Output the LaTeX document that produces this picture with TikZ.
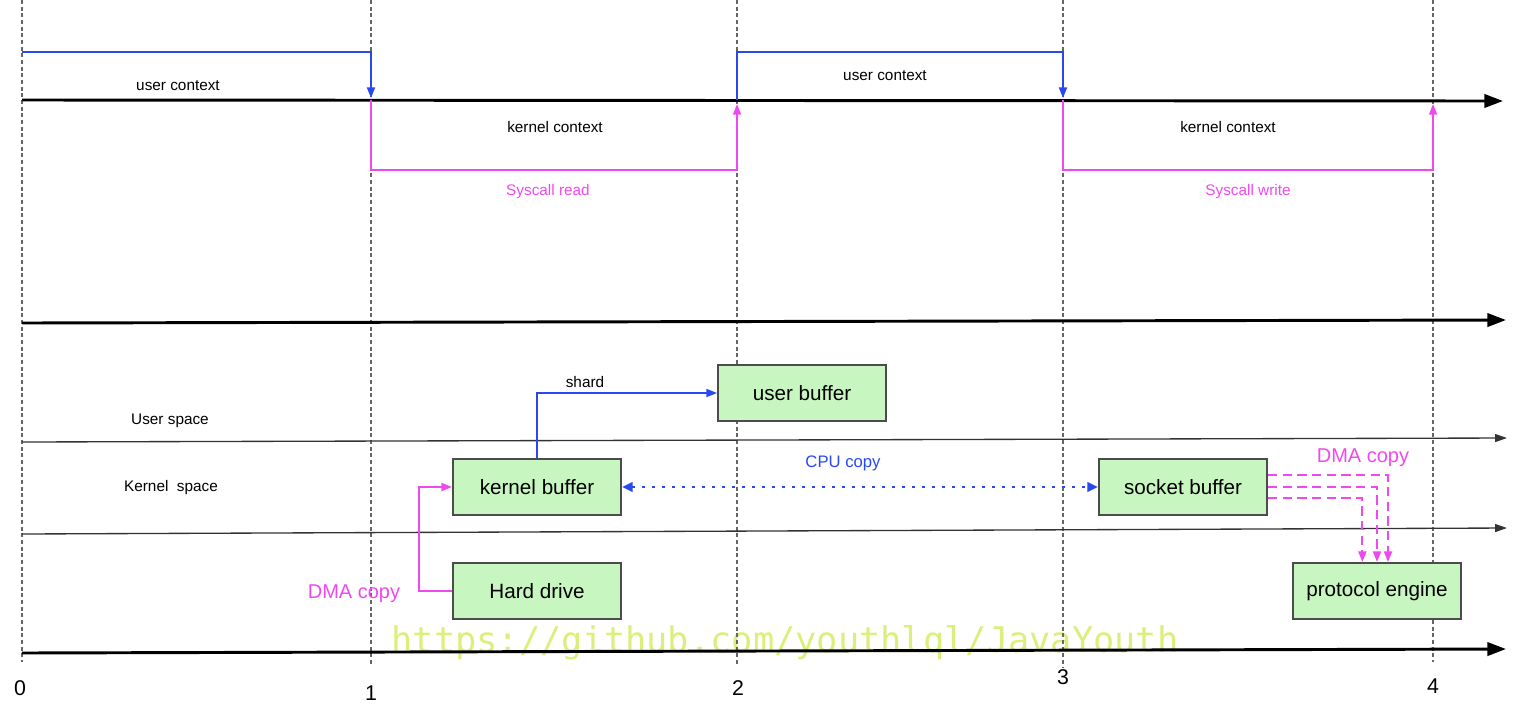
\documentclass[tikz,border=0pt]{standalone}
\usepackage{fontspec}
\setmainfont{Liberation Sans}
\newfontfamily\wmfont{DejaVu Sans Mono}
\usepackage{tikz}
\usetikzlibrary{arrows.meta}

\definecolor{ctxblue}{RGB}{40,72,240}
\definecolor{ctxmag}{RGB}{240,72,240}
\definecolor{bufgreen}{RGB}{200,246,192}
\definecolor{wmgreen}{RGB}{218,240,125}

\tikzset{
  gridline/.style={draw=black!60, line width=0.8pt, dash pattern=on 3pt off 2pt},
  axisline/.style={draw=black, line width=2.2pt, -{Triangle[length=14pt,width=10pt]}},
  sepline/.style={draw=black!80, line width=1pt, -{Triangle[length=9pt,width=6pt]}},
  userctx/.style={draw=ctxblue, line width=1.5pt, -{Triangle[length=8pt,width=6pt]}},
  kernctx/.style={draw=ctxmag, line width=1.1pt, -{Triangle[length=8pt,width=6pt]}},
  bufbox/.style={draw=black!70, line width=1.5pt, fill=bufgreen, minimum width=126pt, minimum height=42pt, inner sep=0pt, font=\fontsize{15.5}{18}\selectfont},
  smalltext/.style={inner sep=0pt, font=\fontsize{11.5}{14}\selectfont},
  tick/.style={inner sep=0pt, font=\fontsize{16}{18}\selectfont},
  shardline/.style={draw=ctxblue, line width=1.3pt, -{Triangle[length=8pt,width=6pt]}},
  cpucopy/.style={draw=ctxblue, line width=2pt, dash pattern=on 2.5pt off 5pt, {Triangle[length=8pt,width=7pt]}-{Triangle[length=8pt,width=7pt]}},
  dmacopy/.style={draw=ctxmag, line width=1.5pt, -{Triangle[length=8pt,width=6pt]}},
  dmadash/.style={draw=ctxmag, line width=1.5pt, dash pattern=on 7pt off 4pt, -{Triangle[length=8pt,width=6pt]}},
}

\begin{document}
\begin{tikzpicture}[x=0.75pt,y=0.75pt,yscale=-1,xscale=1]
\useasboundingbox (0,0) rectangle (1528,704);

% Watermark
\node (wm) at (785,643) [inner sep=0pt, text=wmgreen, font=\wmfont\fontsize{26.5}{30}\selectfont] {https://github.com/youthlql/JavaYouth};

%Straight Lines: time marks
\draw [gridline] (22,0) -- (22,662) ;
\draw [gridline] (371,0) -- (371,664) ;
\draw [gridline] (737,0) -- (737,664) ;
\draw [gridline] (1063,0) -- (1063,668) ;
\draw [gridline] (1433,0) -- (1433,662) ;

%Straight Lines: axes
\draw [axisline] (22,100) -- (1503,101) ;
\draw [axisline] (22,323) -- (1506,320) ;
\draw [sepline] (22,442) -- (1507,438) ;
\draw [sepline] (22,534) -- (1507,528) ;
\draw [axisline] (22,653) -- (1506,649) ;

%Shape: context switches
\draw [userctx] (22,52) -- (371,52) -- (371,98) ;
\draw [kernctx] (371,100) -- (371,170) -- (737,170) -- (737,104) ;
\draw [userctx] (737,100) -- (737,52) -- (1063,52) -- (1063,98) ;
\draw [kernctx] (1063,100) -- (1063,170) -- (1433,170) -- (1433,104) ;

% Text Node
\node (uctx1) at (178,86) [smalltext] {user context};
% Text Node
\node (uctx2) at (885,76) [smalltext] {user context};
% Text Node
\node (kctx1) at (555,127) [smalltext] {kernel context};
% Text Node
\node (kctx2) at (1228,127) [smalltext] {kernel context};
% Text Node
\node (sysrd) at (548,192) [smalltext, text=ctxmag] {Syscall read};
% Text Node
\node (syswr) at (1248,192) [smalltext, text=ctxmag] {Syscall write};
% Text Node
\node (uspace) at (170,421) [smalltext] {User space};
% Text Node
\node (kspace) at (171,488) [smalltext] {Kernel\ \ space};

%Shape: Rectangle
\node (ubuf) at (802,393) [bufbox] {user buffer};
%Shape: Rectangle
\node (kbuf) at (537,487) [bufbox] {kernel buffer};
%Shape: Rectangle
\node (hdd) at (537,591) [bufbox] {Hard drive};
%Shape: Rectangle
\node (sbuf) at (1183,487) [bufbox] {socket buffer};
%Shape: Rectangle
\node (peng) at (1377,591) [bufbox] {protocol engine};

%Straight Lines: copies
\draw [shardline] (kbuf.north) |- (ubuf.west) ;
\draw [cpucopy] (kbuf.east) -- (sbuf.west) ;
\draw [dmacopy] (hdd.west) -- ++(-33,0) |- (kbuf.west) ;
\draw [dmadash] ([yshift=-9pt]sbuf.east) -| ([xshift=8.25pt]peng.north) ;
\draw [dmadash] (sbuf.east) -| (peng.north) ;
\draw [dmadash] ([yshift=8.25pt]sbuf.east) -| ([xshift=-11pt]peng.north) ;

% Text Node
\node (shard) at (585,382) [smalltext] {shard};
% Text Node
\node (cpu) at (843,463) [smalltext, text=ctxblue, font=\fontsize{12.5}{15}\selectfont] {CPU copy};
% Text Node
\node (dma1) at (354,594) [smalltext, text=ctxmag, font=\fontsize{15}{18}\selectfont] {DMA copy};
% Text Node
\node (dma2) at (1363,458) [smalltext, text=ctxmag, font=\fontsize{15}{18}\selectfont] {DMA copy};

% Text Node
\node (t0) at (20,688) [tick] {0};
% Text Node
\node (t1) at (371,693) [tick] {1};
% Text Node
\node (t2) at (738,688) [tick] {2};
% Text Node
\node (t3) at (1063,677) [tick] {3};
% Text Node
\node (t4) at (1433,686) [tick] {4};
\end{tikzpicture}
\end{document}
